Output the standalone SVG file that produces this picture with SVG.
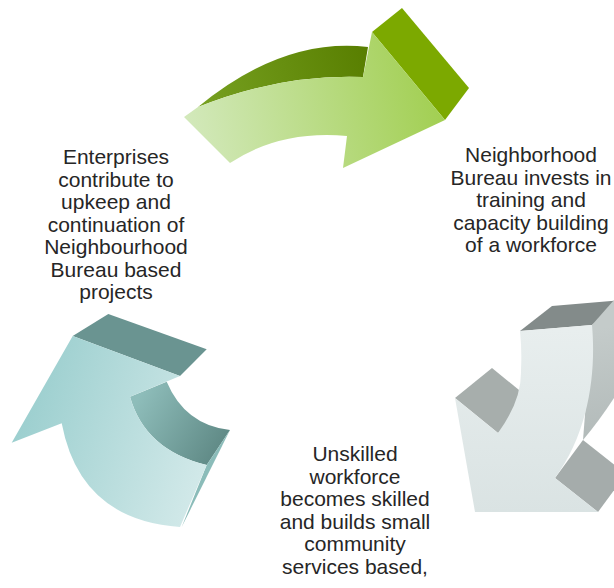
<svg xmlns="http://www.w3.org/2000/svg" width="614" height="588" viewBox="0 0 614 588">
<defs>
<linearGradient id="gFront" x1="190" y1="150" x2="440" y2="100" gradientUnits="userSpaceOnUse">
<stop offset="0" stop-color="#d3e9bc"/><stop offset="1" stop-color="#a2cf52"/>
</linearGradient>
<linearGradient id="gBand" x1="200" y1="100" x2="370" y2="50" gradientUnits="userSpaceOnUse">
<stop offset="0" stop-color="#76a020"/><stop offset="1" stop-color="#587e00"/>
</linearGradient>
<linearGradient id="grFront" x1="0" y1="330" x2="0" y2="512" gradientUnits="userSpaceOnUse">
<stop offset="0" stop-color="#e8eeee"/><stop offset="1" stop-color="#dae3e3"/>
</linearGradient>
<linearGradient id="grSide" x1="590" y1="330" x2="610" y2="440" gradientUnits="userSpaceOnUse">
<stop offset="0" stop-color="#c4cbca"/><stop offset="1" stop-color="#b2bab9"/>
</linearGradient>
<linearGradient id="tFront" x1="20" y1="420" x2="210" y2="480" gradientUnits="userSpaceOnUse">
<stop offset="0" stop-color="#9ccfcf"/><stop offset="1" stop-color="#d4eaea"/>
</linearGradient>
<linearGradient id="tInner" x1="140" y1="395" x2="225" y2="445" gradientUnits="userSpaceOnUse">
<stop offset="0" stop-color="#8ebdba"/><stop offset="1" stop-color="#5f8985"/>
</linearGradient>
</defs>
<style>
text{font-family:"Liberation Sans",Arial,sans-serif;font-size:21px;fill:#262626;text-anchor:middle}
</style>
<g id="connectors">
<g id="arrow-green">
<path d="M198,107 Q283,37 368,47 L363,77 Q279.5,74 198,107 Z" fill="url(#gBand)"/>
<polygon points="372,32 402,8 469,88 445,120" fill="#7ca900"/>
<path d="M184,117 L198,107 Q279.5,74 363,77 L372,32 L445,120 L343,168 L347,136 Q280,130 230,163 Z" fill="url(#gFront)"/>
</g>
<g id="arrow-grey">
<polygon points="520,331 552,306 624,300 592,325" fill="#838b8a"/>
<path d="M592,325 L614,300 L616,300 L616,395 Q600,420 583,440 Z" fill="url(#grSide)"/>
<polygon points="455,398 492,368 535,403 498,433" fill="#a7aeac"/>
<polygon points="555,478 583,440 626,474 598,512" fill="#a5acab"/>
<path d="M520,331 L592,325 C596,370 590,430 555,478 L598,512 L475,512 L455,398 L498,433 Q522,400 521,370 Q522,350 520,331 Z" fill="url(#grFront)"/>
</g>
<g id="arrow-teal">
<polygon points="72.7,336 108.3,314 206.7,349.3 180,376" fill="#6a9491"/>
<path d="M130,396.7 L166.7,381.7 Q185,425 230,430 L206.7,465 Q145,450 130,396.7 Z" fill="url(#tInner)"/>
<polygon points="206.7,465 230,430 181.7,527" fill="#8bbcb9"/>
<path d="M72.7,336 L180,376 L130,396.7 Q145,450 206.7,465 L180,527 Q80,520 61.7,423.3 L11.7,442.7 Z" fill="url(#tFront)"/>
</g>
</g>
<g id="node-left">
<text x="116" y="164">Enterprises</text>
<text x="116" y="186.5">contribute to</text>
<text x="116" y="209">upkeep and</text>
<text x="116" y="231.5">continuation of</text>
<text x="116" y="254">Neighbourhood</text>
<text x="116" y="276.5">Bureau based</text>
<text x="116" y="299">projects</text>
</g>
<g id="node-right">
<text x="531" y="162">Neighborhood</text>
<text x="531" y="184.5">Bureau invests in</text>
<text x="531" y="207">training and</text>
<text x="531" y="229.5">capacity building</text>
<text x="531" y="252">of a workforce</text>
</g>
<g id="node-bottom">
<text x="355" y="461">Unskilled</text>
<text x="355" y="483.5">workforce</text>
<text x="355" y="506">becomes skilled</text>
<text x="355" y="528.5">and builds small</text>
<text x="355" y="551">community</text>
<text x="355" y="573.5">services based,</text>
</g>
</svg>
